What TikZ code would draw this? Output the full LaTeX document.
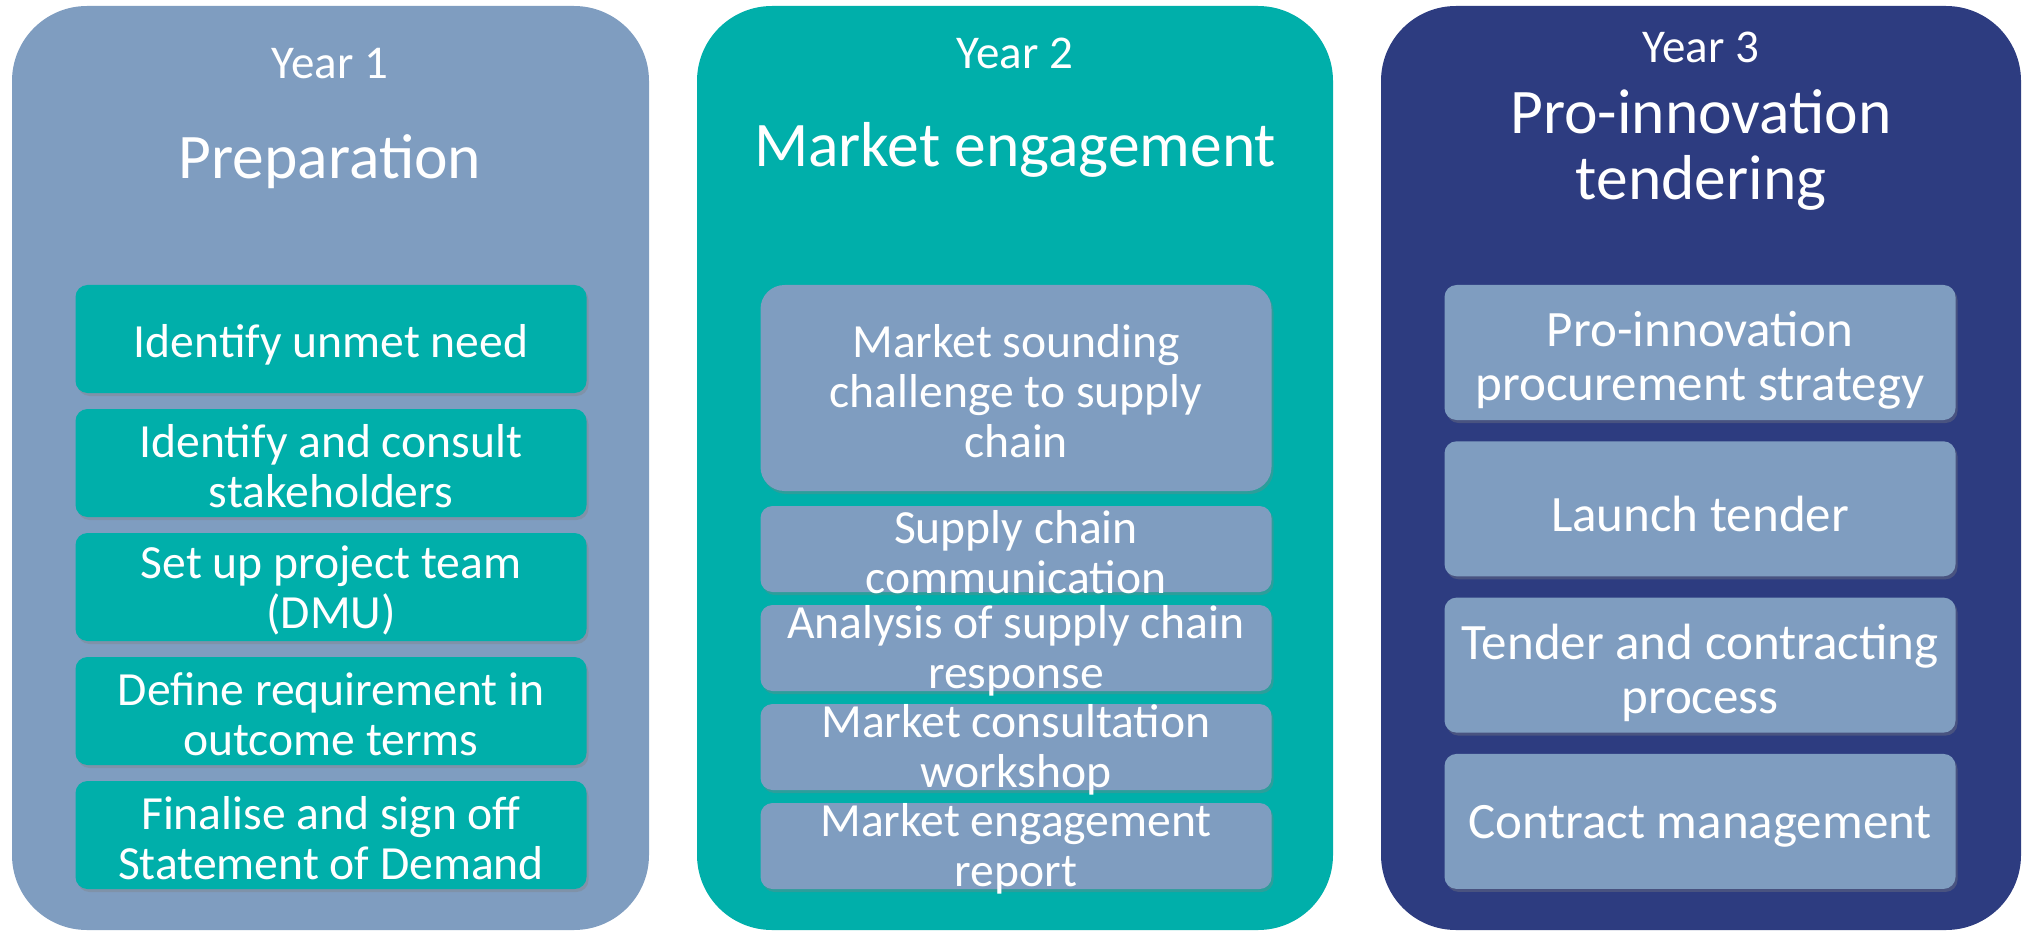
\documentclass[tikz,border=0pt]{standalone}
\usepackage{fontspec}
\setmainfont{Carlito}
\usetikzlibrary{shadows}

\definecolor{steel}{RGB}{127,157,192}
\definecolor{seateal}{RGB}{0,175,170}
\definecolor{deepnavy}{RGB}{45,60,128}

\newcommand\titlesize{\fontsize{63.5}{66}\selectfont}
\newcommand\yearsize{\fontsize{47}{50}\selectfont}
\newcommand\boxsize{\fontsize{47.6}{50}\selectfont}
\newcommand\bigboxsize{\fontsize{51}{54}\selectfont}

\begin{document}
\begin{tikzpicture}[
		x=1pt,y=-1pt,
		panel/.style={rounded corners=75pt,minimum height=924pt,inner sep=0pt},
		stepbox/.style={rounded corners=12pt,minimum width=511pt,inner sep=0pt,
			drop shadow={shadow xshift=2pt,shadow yshift=-3pt,opacity=0.35}},
		steptext/.style={text=white,align=center,font=\boxsize,inner sep=0pt,yshift=-3pt},
		bigsteptext/.style={steptext,font=\bigboxsize,yshift=-2pt},
		yeartext/.style={text=white,font=\yearsize,anchor=base,inner sep=0pt},
		titletext/.style={text=white,font=\titlesize,align=center,inner sep=0pt}
		]
		\useasboundingbox (0,0) rectangle (2024,933);

		% the three year panels
		\node[panel,fill=steel,minimum width=637pt] (year1) at (330.5,468) {};
		\node[panel,fill=seateal,minimum width=636pt] (year2) at (1015,468) {};
		\node[panel,fill=deepnavy,minimum width=640pt] (year3) at (1701,468) {};

		\node[yeartext] (year1 label) at (330,79) {Year 1};
		\node[titletext,anchor=base] (year1 title) at (330,179) {Preparation};
		\node[yeartext] (year2 label) at (1015,69) {Year 2};
		\node[titletext,anchor=base] (year2 title) at (1015,167) {Market engagement};
		\node[yeartext] (year3 label) at (1701,63) {Year 3};
		\node[titletext] (year3 title) at (1701,150) {Pro-innovation\\tendering};

		% Year 1 steps
		\path (331,339) node[stepbox,fill=seateal,minimum height=108pt] (need) {}
		 ++(0,124) node[stepbox,fill=seateal,minimum height=108pt] (stakeholders) {}
		 ++(0,124) node[stepbox,fill=seateal,minimum height=108pt] (team) {}
		 ++(0,124) node[stepbox,fill=seateal,minimum height=108pt] (requirement) {}
		 ++(0,124) node[stepbox,fill=seateal,minimum height=108pt] (demand) {};
		\node[steptext,yshift=-3pt] (need text) at (need) {Identify unmet need};
		\node[steptext] (stakeholders text) at (stakeholders) {Identify and consult\\stakeholders};
		\node[steptext] (team text) at (team) {Set up project team\\(DMU)};
		\node[steptext] (requirement text) at (requirement) {Define requirement in\\outcome terms};
		\node[steptext] (demand text) at (demand) {Finalise and sign off\\Statement of Demand};

		% Year 2 steps
		\node[stepbox,fill=steel,minimum height=206pt,rounded corners=24pt] (sounding) at (1016,388) {};
		\path (1016,549) node[stepbox,fill=steel,minimum height=86pt] (communication) {}
		 ++(0,99) node[stepbox,fill=steel,minimum height=86pt] (analysis) {}
		 ++(0,99) node[stepbox,fill=steel,minimum height=86pt] (workshop) {}
		 ++(0,99) node[stepbox,fill=steel,minimum height=86pt] (report) {};
		\node[steptext] (sounding text) at (sounding) {Market sounding\\challenge to supply\\chain};
		\node[steptext] (communication text) at (communication) {Supply chain\\communication};
		\node[steptext] (analysis text) at (analysis) {Analysis of supply chain\\response};
		\node[steptext] (workshop text) at (workshop) {Market consultation\\workshop};
		\node[steptext] (report text) at (report) {Market engagement\\report};

		% Year 3 steps
		\path (1700,352.5) node[stepbox,fill=steel,minimum height=135pt] (strategy) {}
		 ++(0,156.3) node[stepbox,fill=steel,minimum height=135pt] (launch) {}
		 ++(0,156.3) node[stepbox,fill=steel,minimum height=135pt] (contracting) {}
		 ++(0,156.3) node[stepbox,fill=steel,minimum height=135pt] (management) {};
		\node[bigsteptext,yshift=-3pt] (strategy text) at (strategy) {Pro-innovation\\procurement strategy};
		\node[bigsteptext] (launch text) at (launch) {Launch tender};
		\node[bigsteptext,yshift=-3pt] (contracting text) at (contracting) {Tender and contracting\\process};
		\node[bigsteptext] (management text) at (management) {Contract management};

	\end{tikzpicture}
\end{document}
